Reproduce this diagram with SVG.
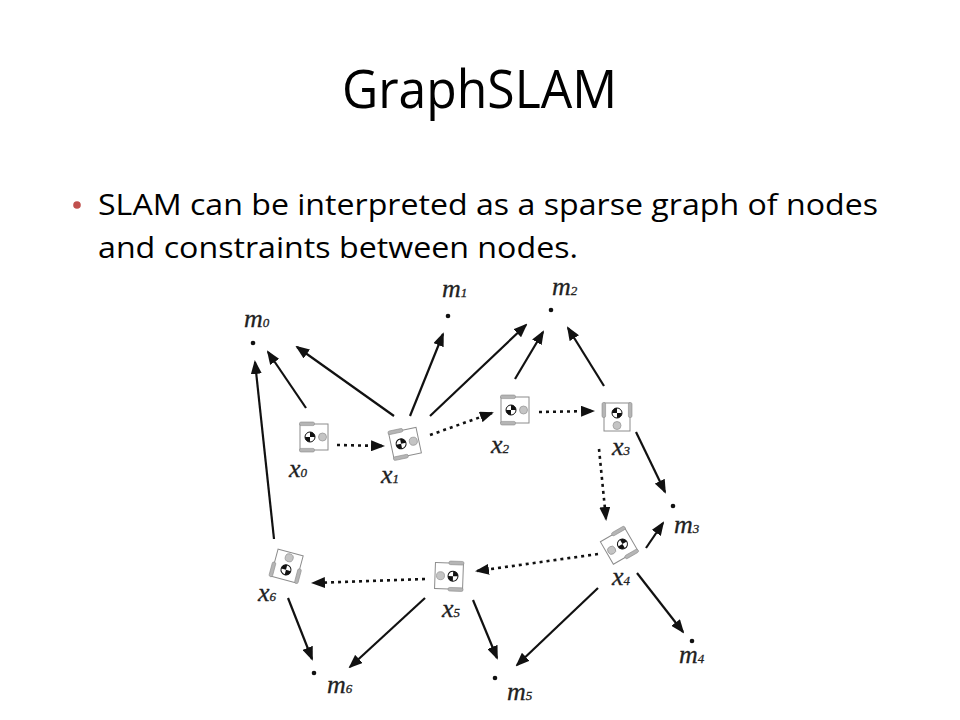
<svg xmlns="http://www.w3.org/2000/svg" xmlns:xlink="http://www.w3.org/1999/xlink" width="960" height="720" viewBox="0 0 960 720">
<style>
.title{font-family:"Open Sans","Liberation Sans",sans-serif;font-size:53px;fill:#000}
.body{font-family:"Open Sans","Liberation Sans",sans-serif;font-size:29px;fill:#000}
.lbl{font-family:"Liberation Serif","Times New Roman",serif;font-style:italic;font-size:26px;fill:#222;stroke:#222;stroke-width:0.3}
.sub{font-size:13px}
.solid{stroke:#111;stroke-width:2.2;fill:none;marker-end:url(#ah)}
.dot{stroke:#111;stroke-width:2.6;fill:none;stroke-dasharray:3 4;marker-end:url(#ah)}
.lm{fill:#111}
</style>
<defs>
<marker id="ah" markerUnits="userSpaceOnUse" markerWidth="14" markerHeight="11" refX="12" refY="5.5" orient="auto">
<path d="M0,0 L14,5.5 L0,11 Z" fill="#111"/>
</marker>
<g id="robot">
<rect x="-14" y="-13" width="28" height="26" fill="#fff" stroke="#8c8c8c" stroke-width="1"/>
<rect x="-14.5" y="-15" width="15" height="3.6" rx="1.6" fill="#b5b5b5" stroke="#8c8c8c" stroke-width="0.6"/>
<rect x="-14.5" y="11.4" width="15" height="3.6" rx="1.6" fill="#b5b5b5" stroke="#8c8c8c" stroke-width="0.6"/>
<circle cx="-4" cy="0" r="5" fill="#fff" stroke="#111" stroke-width="1"/>
<path d="M-4,0 L-4,-5 A5,5 0 0 1 1,0 Z" fill="#111"/>
<path d="M-4,0 L-4,5 A5,5 0 0 1 -9,0 Z" fill="#111"/>
<circle cx="8.5" cy="0" r="4" fill="#c4c4c4" stroke="#9a9a9a" stroke-width="0.8"/>
</g>
</defs>
<rect width="960" height="720" fill="#fff"/>

<g id="title">
<text class="title" x="342" y="108" textLength="275" lengthAdjust="spacingAndGlyphs">GraphSLAM</text>
</g>
<g id="bullet">
<circle cx="77" cy="205" r="3.8" fill="#c0504d"/>
<text class="body" x="98" y="215" textLength="780" lengthAdjust="spacingAndGlyphs">SLAM can be interpreted as a sparse graph of nodes</text>
<text class="body" x="98" y="258" textLength="480" lengthAdjust="spacingAndGlyphs">and constraints between nodes.</text>
</g>

<g id="connectors">
<line class="solid" x1="306" y1="408" x2="268" y2="352"/>
<line class="solid" x1="394" y1="416" x2="297" y2="347"/>
<line class="solid" x1="410" y1="416" x2="443" y2="334"/>
<line class="solid" x1="430" y1="416" x2="526" y2="325"/>
<line class="solid" x1="515" y1="379" x2="543" y2="332"/>
<line class="solid" x1="604" y1="386" x2="568" y2="328"/>
<line class="solid" x1="636" y1="432" x2="665" y2="492"/>
<line class="solid" x1="646" y1="548" x2="663" y2="523"/>
<line class="solid" x1="637" y1="573" x2="683" y2="632"/>
<line class="solid" x1="598" y1="588" x2="517" y2="665"/>
<line class="solid" x1="473" y1="600" x2="497" y2="658"/>
<line class="solid" x1="425" y1="598" x2="350" y2="667"/>
<line class="solid" x1="288" y1="598" x2="312" y2="659"/>
<line class="solid" x1="274" y1="539" x2="255" y2="362"/>
<line class="dot" x1="337" y1="445" x2="383" y2="446"/>
<line class="dot" x1="430" y1="435" x2="492" y2="413"/>
<line class="dot" x1="539" y1="412" x2="593" y2="411"/>
<line class="dot" x1="599" y1="449" x2="606" y2="519"/>
<line class="dot" x1="598" y1="554" x2="477" y2="571"/>
<line class="dot" x1="425" y1="579" x2="313" y2="583"/>
</g>

<g id="m0"><circle class="lm" cx="253" cy="343" r="2.3"/><text class="lbl" x="244" y="327">m<tspan class="sub">0</tspan></text></g>
<g id="m1"><circle class="lm" cx="448" cy="316" r="2.3"/><text class="lbl" x="442" y="297">m<tspan class="sub">1</tspan></text></g>
<g id="m2"><circle class="lm" cx="551" cy="310" r="2.3"/><text class="lbl" x="552" y="295">m<tspan class="sub">2</tspan></text></g>
<g id="m3"><circle class="lm" cx="673" cy="506" r="2.3"/><text class="lbl" x="674" y="533">m<tspan class="sub">3</tspan></text></g>
<g id="m4"><circle class="lm" cx="692" cy="641" r="2.3"/><text class="lbl" x="679" y="663">m<tspan class="sub">4</tspan></text></g>
<g id="m5"><circle class="lm" cx="495" cy="678" r="2.3"/><text class="lbl" x="507" y="700">m<tspan class="sub">5</tspan></text></g>
<g id="m6"><circle class="lm" cx="314" cy="673" r="2.3"/><text class="lbl" x="327" y="693">m<tspan class="sub">6</tspan></text></g>

<g id="x0"><use xlink:href="#robot" transform="translate(314,437)"/><text class="lbl" x="289" y="477">x<tspan class="sub">0</tspan></text></g>
<g id="x1"><use xlink:href="#robot" transform="translate(405,443) rotate(-12)"/><text class="lbl" x="381" y="483">x<tspan class="sub">1</tspan></text></g>
<g id="x2"><use xlink:href="#robot" transform="translate(515,410)"/><text class="lbl" x="491" y="453">x<tspan class="sub">2</tspan></text></g>
<g id="x3"><use xlink:href="#robot" transform="translate(617,417) rotate(90)"/><text class="lbl" x="612" y="455">x<tspan class="sub">3</tspan></text></g>
<g id="x4"><use xlink:href="#robot" transform="translate(619,546) rotate(150)"/><text class="lbl" x="612" y="585">x<tspan class="sub">4</tspan></text></g>
<g id="x5"><use xlink:href="#robot" transform="translate(449,576) rotate(182)"/><text class="lbl" x="442" y="617">x<tspan class="sub">5</tspan></text></g>
<g id="x6"><use xlink:href="#robot" transform="translate(287,566) rotate(-75)"/><text class="lbl" x="258" y="601">x<tspan class="sub">6</tspan></text></g>
</svg>
